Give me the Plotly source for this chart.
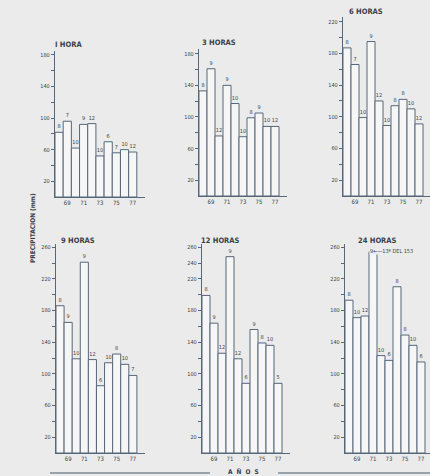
import plotly.graph_objects as go

years = [68, 69, 70, 71, 72, 73, 74, 75, 76, 77]
tick_years = [69, 71, 73, 75, 77]
tick_year_text = ["69", "71", "73", "75", "77"]

titles = ["I HORA", "3 HORAS", "6 HORAS", "9 HORAS", "12 HORAS", "24 HORAS"]

h1 = [82, 96, 62, 92, 93, 52, 70, 56, 60, 57]
m1 = ["8", "7", "10", "9", "12", "10", "6", "7", "10", "12"]
h3 = [133, 161, 76, 140, 117, 75, 99, 105, 88, 88]
m3 = ["8", "9", "12", "9", "10", "10", "8", "9", "10", "12"]
h6 = [187, 166, 99, 195, 120, 89, 114, 122, 110, 91]
m6 = ["8", "7", "10", "9", "12", "10", "8", "8", "10", "12"]
h9 = [186, 165, 119, 241, 118, 85, 114, 125, 112, 98]
m9 = ["8", "9", "10", "9", "12", "6", "10", "8", "10", "7"]
h12 = [199, 164, 126, 248, 119, 88, 156, 139, 136, 88]
m12 = ["8", "9", "12", "9", "12", "6", "9", "8", "10", "5"]
h24 = [193, 171, 173, 254, 123, 117, 210, 149, 136, 115]
m24 = ["8", "10", "12", "9", "10", "6", "8", "8", "10", "6"]
note24 = "←—13ª DEL 153"

ylab_small = [20, 60, 100, 140, 180]
ylab_mid = [20, 60, 100, 140, 180, 220]
ylab_big = [20, 60, 100, 140, 180, 220, 260]
ylab_12 = [20, 60, 100, 140, 180, 220, 240, 260]

W, H = 430, 476
BG = "#ebebeb"
LINE = "#56677a"
TXT = "#3a3f48"
FONT = "Liberation Sans Narrow, DejaVu Sans Condensed, sans-serif"

# panel geometry in pixels: (x_left, x_right, baseline_y, top_y, y_max, x_max)
panels = [
    (55, 145, 197, 51, 185, 78.5),
    (199, 287, 196, 49, 186, 78.5),
    (343, 430, 196, 17, 226, 78.375),
    (56, 145, 453, 244, 264, 78.5),
    (202, 290, 453, 244, 264, 78.5),
    (345, 430, 453, 244, 264, 78.125),
]
series = [(h1, m1, ylab_small, 180), (h3, m3, ylab_small, 180), (h6, m6, ylab_mid, 220),
          (h9, m9, ylab_big, 260), (h12, m12, ylab_12, 260), (h24, m24, ylab_big, 260)]

fig = go.Figure()
layout = dict(
    width=W, height=H, margin=dict(l=0, r=0, t=0, b=0),
    paper_bgcolor=BG, plot_bgcolor=BG, showlegend=False, bargap=0,
    font=dict(family=FONT, color=TXT, size=6),
)
annotations = []
for i, ((xl, xr, yb, yt, ymax, xmax), (vals, mons, ylabs, ytop)) in enumerate(zip(panels, series)):
    n = i + 1
    xa = "x" if n == 1 else f"x{n}"
    ya = "y" if n == 1 else f"y{n}"
    texts = list(mons)
    if i == 5:
        texts[3] = ""
    fig.add_trace(go.Bar(
        x=years, y=vals, xaxis=xa, yaxis=ya, width=1.0,
        marker=dict(color="#f6f6f6", line=dict(color=LINE, width=1)),
        text=texts, textposition="outside", cliponaxis=False,
        textfont=dict(size=5.5, color=TXT, family=FONT),
    ))
    tv = list(range(20, ytop + 1, 20))
    tt = [str(v) if v in ylabs else "" for v in tv]
    for v in ylabs:
        if v not in tv:
            tv.append(v)
            tt.append(str(v))
    layout["xaxis" if n == 1 else f"xaxis{n}"] = dict(
        domain=[xl / W, xr / W], range=[67.5, xmax], anchor=ya,
        showgrid=False, zeroline=False, showline=True, linecolor=LINE, linewidth=1.2,
        tickvals=tick_years, ticktext=tick_year_text, ticks="", ticklen=0,
        tickfont=dict(size=6, color=TXT), fixedrange=True,
    )
    layout["yaxis" if n == 1 else f"yaxis{n}"] = dict(
        domain=[1 - yb / H, 1 - yt / H], range=[0, ymax], anchor=xa,
        showgrid=False, zeroline=False, showline=True, linecolor=LINE, linewidth=1.2,
        tickvals=tv, ticktext=tt, ticks="outside", ticklen=3, tickcolor=LINE,
        tickfont=dict(size=5.5, color=TXT), fixedrange=True,
    )
    title_pos = [(68, 44), (219, 42), (366, 11), (78, 240), (220, 240), (377, 240)][i]
    annotations.append(dict(
        x=title_pos[0] / W, y=1 - title_pos[1] / H, xref="paper", yref="paper",
        text=f"<b>{titles[i]}</b>", showarrow=False, xanchor="center", yanchor="middle",
        font=dict(size=7.5, color=TXT, family=FONT),
    ))

annotations.append(dict(
    x=70.55, y=h24[3] + 1, xref="x6", yref="y6", text=m24[3] + note24,
    showarrow=False, xanchor="left", yanchor="middle", bgcolor=BG, borderpad=0,
    font=dict(size=5.5, color=TXT, family=FONT),
))
annotations.append(dict(
    x=27 / W, y=1 - 228 / H, xref="paper", yref="paper",
    text="<b>PRECIPITACION (mm)</b>", textangle=-90, showarrow=False,
    font=dict(size=6.5, color=TXT, family=FONT),
))
annotations.append(dict(
    x=243 / W, y=1 - 471 / H, xref="paper", yref="paper",
    text="<b>A  Ñ  O  S</b>", showarrow=False, yanchor="middle",
    font=dict(size=6.5, color=TXT, family=FONT),
))
layout["annotations"] = annotations
layout["shapes"] = [
    dict(type="line", xref="paper", yref="paper", x0=50 / W, x1=210 / W,
         y0=1 - 473 / H, y1=1 - 473 / H, line=dict(color="#7d8a96", width=1.5)),
    dict(type="line", xref="paper", yref="paper", x0=278 / W, x1=1.0,
         y0=1 - 473 / H, y1=1 - 473 / H, line=dict(color="#7d8a96", width=1.5)),
]
fig.update_layout(**layout)
fig.write_html(
    "out.html",
    config={"displayModeBar": False, "staticPlot": True},
    post_script="document.body.style.margin='0';document.body.style.padding='0';"
                "document.body.style.overflow='hidden';document.body.style.background='#ebebeb';",
)
